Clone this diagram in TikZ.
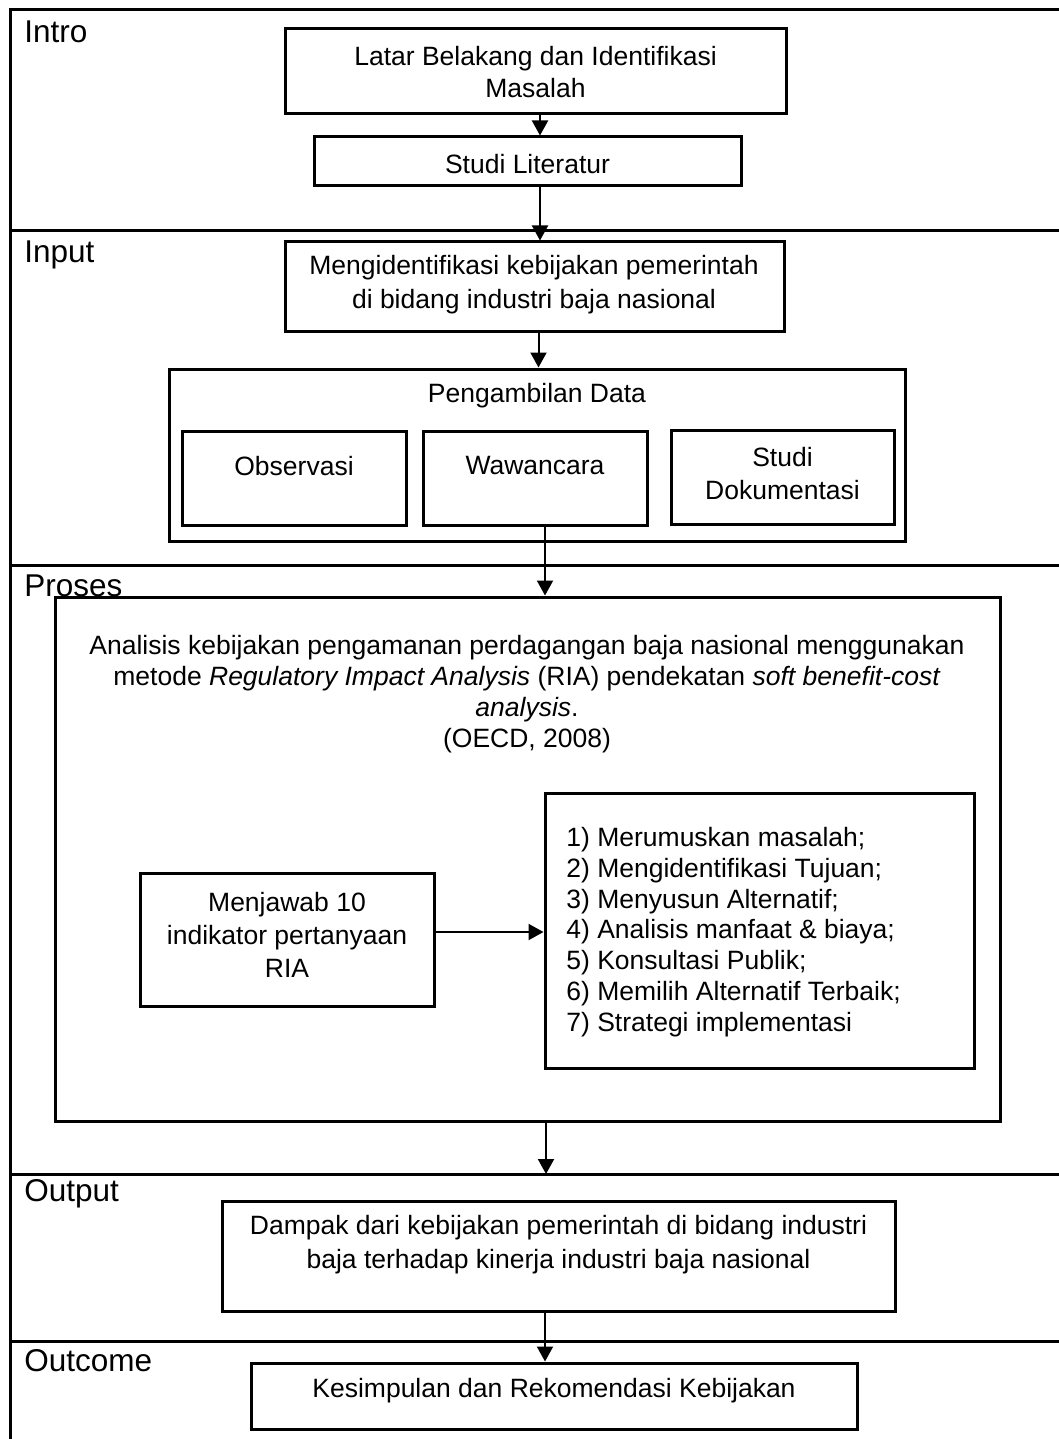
\documentclass[tikz,border=0pt]{standalone}
\usepackage{fontspec}
\setmainfont{Liberation Sans}
\usetikzlibrary{arrows.meta,fit}
\begin{document}
\begin{tikzpicture}[x=0.5pt,y=-0.5pt,
  every node/.style={font=\fontsize{13.25pt}{16.5pt}\selectfont, inner sep=0pt},
  box/.style={draw, line width=1.5pt, inner sep=0pt},
  arr/.style={line width=1pt, -{Triangle[length=7.5pt,width=8pt]}},
  frame/.style={line width=1.5pt},
  lbl/.style={anchor=west, font=\fontsize{15.75pt}{18pt}\selectfont},
  txt/.style={align=center},
  tight/.style={font=\fontsize{13.25pt}{15.4pt}\selectfont}]

\useasboundingbox (0,0) rectangle (1059,1439);

% frame and section dividers
\draw[frame] (10,1439) -- (10,10) -- (1059,10);
\draw[frame] (10,231) -- (1059,231);
\draw[frame] (10,565) -- (1059,565);
\draw[frame] (10,1174) -- (1059,1174);
\draw[frame] (10,1341) -- (1059,1341);

% section labels
\node[lbl] (lintro) at (24,32) {Intro};
\node[lbl] (linput) at (24,255) {Input};
\node[lbl] (lproses) at (24,586) {Proses};
\node[lbl] (loutput) at (24,1194) {Output};
\node[lbl] (loutcome) at (24,1361) {Outcome};

% boxes
\node[box, fit={(285,29)(786,114)}] (latar) {};
\node[box, fit={(314,137)(741,186)}] (studi) {};
\node[box, fit={(285,242)(784,331)}] (input) {};
\node[box, fit={(169,369)(905,541)}] (peng) {};
\node[box, fit={(182,431)(406,525)}] (obs) {};
\node[box, fit={(423,431)(647,525)}] (waw) {};
\node[box, fit={(671,430)(894,524)}] (dok) {};
\node[box, fit={(55,597)(1000,1121)}] (proses) {};
\node[box, fit={(545,793)(974,1068)}] (list) {};
\node[box, fit={(140,873)(434,1006)}] (menj) {};
\node[box, fit={(222,1201)(895,1311)}] (output) {};
\node[box, fit={(251,1363)(857,1429)}] (outcome) {};

% texts
\node[txt, font=\fontsize{13.25pt}{16pt}\selectfont] (tlatar) at (535.5,72) {Latar Belakang dan Identifikasi\\Masalah};
\node (tstudi) at (527.5,164) {Studi Literatur};
\node[txt, font=\fontsize{13.25pt}{17pt}\selectfont] (tinput) at (534,285) {Mengidentifikasi kebijakan pemerintah\\di bidang industri baja nasional};
\node (tpeng) at (537,396) {Pengambilan Data};
\node (tobs) at (294,466) {Observasi};
\node (twaw) at (535,466) {Wawancara};
\node[txt] (tdok) at (782.5,474) {Studi\\Dokumentasi};
\node[txt, tight] (tproses) at (527,694) {Analisis kebijakan pengamanan perdagangan baja nasional menggunakan\\metode \textit{Regulatory Impact Analysis} (RIA) pendekatan \textit{soft benefit-cost}\\\textit{analysis}.\\(OECD, 2008)};
\node[txt] (tmenj) at (287,935) {Menjawab 10\\indikator pertanyaan\\RIA};
\node[align=left, anchor=west, tight] (tlist) at (566,932) {1) Merumuskan masalah;\\2) Mengidentifikasi Tujuan;\\3) Menyusun Alternatif;\\4) Analisis manfaat \& biaya;\\5) Konsultasi Publik;\\6) Memilih Alternatif Terbaik;\\7) Strategi implementasi};
\node[txt, font=\fontsize{13.25pt}{17pt}\selectfont] (toutput) at (558.5,1245) {Dampak dari kebijakan pemerintah di bidang industri\\baja terhadap kinerja industri baja nasional};
\node (toutcome) at (554,1391) {Kesimpulan dan Rekomendasi Kebijakan};

% connector helpers
\coordinate (ax1) at (540,0);
\coordinate (ax3) at (538.5,0);
\coordinate (ax4) at (545,0);
\coordinate (ax5) at (546,0);
\coordinate (ax6) at (545,0);
\coordinate (ay) at (0,932);
\coordinate (dout) at (10,1174);

% connectors
\draw[arr] (latar.south -| ax1) -- (studi.north -| ax1);
\draw[arr] (studi.south -| ax1) -- (input.north -| ax1);
\draw[arr] (input.south -| ax3) -- (peng.north -| ax3);
\draw[arr] (waw.south -| ax4) -- (proses.north -| ax4);
\draw[arr] (menj.east |- ay) -- (list.west |- ay);
\draw[arr] (proses.south -| ax5) -- (dout -| ax5);
\draw[arr] (output.south -| ax6) -- (outcome.north -| ax6);
\end{tikzpicture}
\end{document}
